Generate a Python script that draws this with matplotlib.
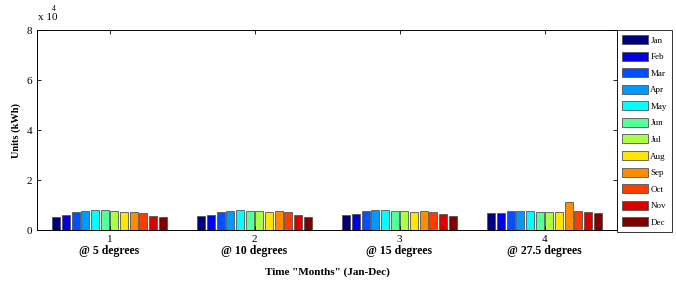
import numpy as np
import matplotlib.pyplot as plt

# ====== DATA (units x 10^4 kWh) ======
months = ["Jan", "Feb", "Mar", "Apr", "May", "Jun",
          "Jul", "Aug", "Sep", "Oct", "Nov", "Dec"]
groups = [1, 2, 3, 4]
group_labels = ["@ 5 degrees", "@ 10 degrees", "@ 15 degrees", "@ 27.5 degrees"]
tilt_5 = [0.53, 0.59, 0.73, 0.77, 0.80, 0.80, 0.77, 0.73, 0.73, 0.67, 0.57, 0.51]
tilt_10 = [0.57, 0.60, 0.73, 0.77, 0.80, 0.77, 0.77, 0.73, 0.77, 0.71, 0.60, 0.53]
tilt_15 = [0.60, 0.65, 0.77, 0.80, 0.80, 0.77, 0.77, 0.72, 0.77, 0.71, 0.64, 0.57]
tilt_275 = [0.67, 0.67, 0.77, 0.77, 0.77, 0.73, 0.73, 0.71, 1.11, 0.77, 0.73, 0.67]
colors = ["#00007f", "#0000e0", "#0050ff", "#0099ff", "#00ffff", "#55ff99",
          "#aaff44", "#ffe600", "#ff8c00", "#ff3c00", "#d80000", "#7f0000"]
# ====================

data = np.array([tilt_5, tilt_10, tilt_15, tilt_275])

plt.rcParams['font.family'] = ['Liberation Serif', 'DejaVu Serif']
plt.rcParams['font.size'] = 8

fig = plt.figure(figsize=(6.76, 2.87), dpi=100)
ax = fig.add_axes([37 / 676, 57 / 287, 580 / 676, 200 / 287])

n = len(months)
slot = 0.8 / n
x = np.array(groups, dtype=float)
for i, m in enumerate(months):
    offs = -0.4 + slot * (i + 0.5)
    ax.bar(x + offs, data[:, i], width=slot * 0.85, color=colors[i],
           edgecolor="#555555", linewidth=0.6, label=m)

ax.set_xlim(0.5, 4.5)
ax.set_ylim(0, 8)
ax.set_yticks([0, 2, 4, 6, 8])
ax.set_xticks(groups)
ax.tick_params(direction="in", top=True, right=True, length=3, width=0.6)
for s in ax.spines.values():
    s.set_linewidth(0.7)

for g, lab in zip(groups, group_labels):
    ax.text(g, -0.85, lab, ha="center", va="center", fontsize=8.5,
            fontweight="bold", transform=ax.transData)

ax.set_ylabel("Units (kWh)", fontweight="bold", fontsize=7.5)
fig.text(327 / 676, 1 - 272 / 287, 'Time "Months" (Jan-Dec)', ha="center",
         va="center", fontweight="bold", fontsize=8)
fig.text(38 / 676, 1 - 18 / 287, "x 10", ha="left", va="center", fontsize=8)
fig.text(52 / 676, 1 - 9 / 287, "4", ha="left", va="center", fontsize=5.5)

leg = fig.legend(loc="upper left", bbox_to_anchor=(617 / 676, 1 - 30 / 287),
                 fontsize=6.5, frameon=True, fancybox=False, handlelength=2.9,
                 handleheight=1.15, labelspacing=0.78, borderpad=0.55,
                 handletextpad=0.25, borderaxespad=0)
leg.get_frame().set_edgecolor("black")
leg.get_frame().set_linewidth(0.7)

plt.savefig("out.png", dpi=100)
